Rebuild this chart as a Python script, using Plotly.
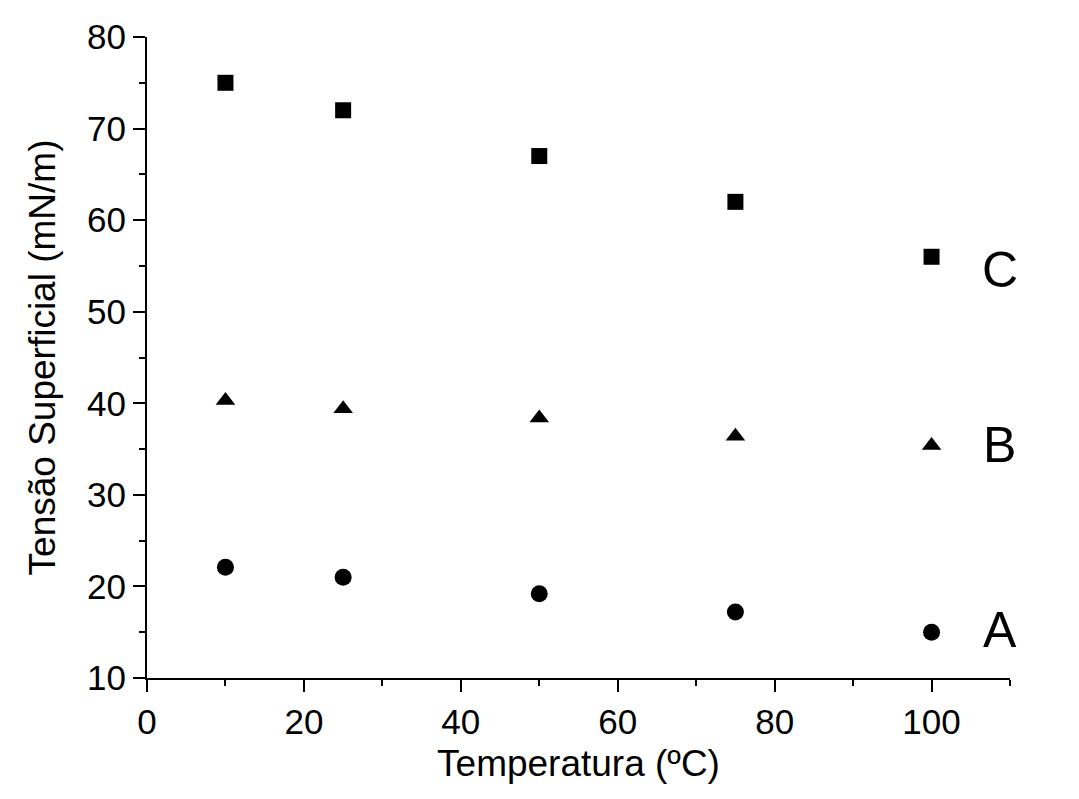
import plotly.graph_objects as go

temperatura = [10, 25, 50, 75, 100]
serie_c = [75.0, 72.0, 67.0, 62.0, 56.0]
serie_b = [40.3, 39.4, 38.4, 36.4, 35.4]
serie_a = [22.1, 21.0, 19.2, 17.2, 15.0]
rotulos = ["A", "B", "C"]
rotulo_y = [15.2, 35.4, 54.6]

FONT = "Liberation Sans, Arial, sans-serif"

fig = go.Figure()
for y, sym, sz in [(serie_c, "square", 16), (serie_b, "triangle-up", 17), (serie_a, "circle", 17)]:
    fig.add_trace(go.Scatter(x=temperatura, y=y, mode="markers",
                             marker=dict(symbol=sym, size=sz, color="black", line=dict(width=0)),
                             showlegend=False))

for lab, ly in zip(rotulos, rotulo_y):
    fig.add_annotation(x=108.7, y=ly, text=lab, showarrow=False,
                       font=dict(family=FONT, size=50, color="black"),
                       xref="x", yref="y", xanchor="center", yanchor="middle")

axis_common = dict(showline=True, linecolor="black", linewidth=2, ticks="outside",
                   ticklen=12, tickwidth=2, tickcolor="black", showgrid=False, zeroline=False,
                   tickfont=dict(family=FONT, size=35, color="black"),
                   title_font=dict(family=FONT, size=37, color="black"), mirror=False)

fig.update_xaxes(range=[0, 110], tick0=0, dtick=20,
                 minor=dict(ticks="outside", dtick=10, ticklen=6, tickwidth=2, tickcolor="black", showgrid=False),
                 title_text="Temperatura (ºC)", title_standoff=10, **axis_common)
fig.update_yaxes(range=[10, 80], tick0=10, dtick=10,
                 minor=dict(ticks="outside", dtick=5, ticklen=6, tickwidth=2, tickcolor="black", showgrid=False),
                 title_text="Tensão Superficial (mN/m)", title_standoff=20, **axis_common)

fig.update_layout(width=1079, height=799, plot_bgcolor="white", paper_bgcolor="white",
                  margin=dict(l=147, r=69, t=37, b=121), font=dict(family=FONT))
fig.write_html("out.html")
